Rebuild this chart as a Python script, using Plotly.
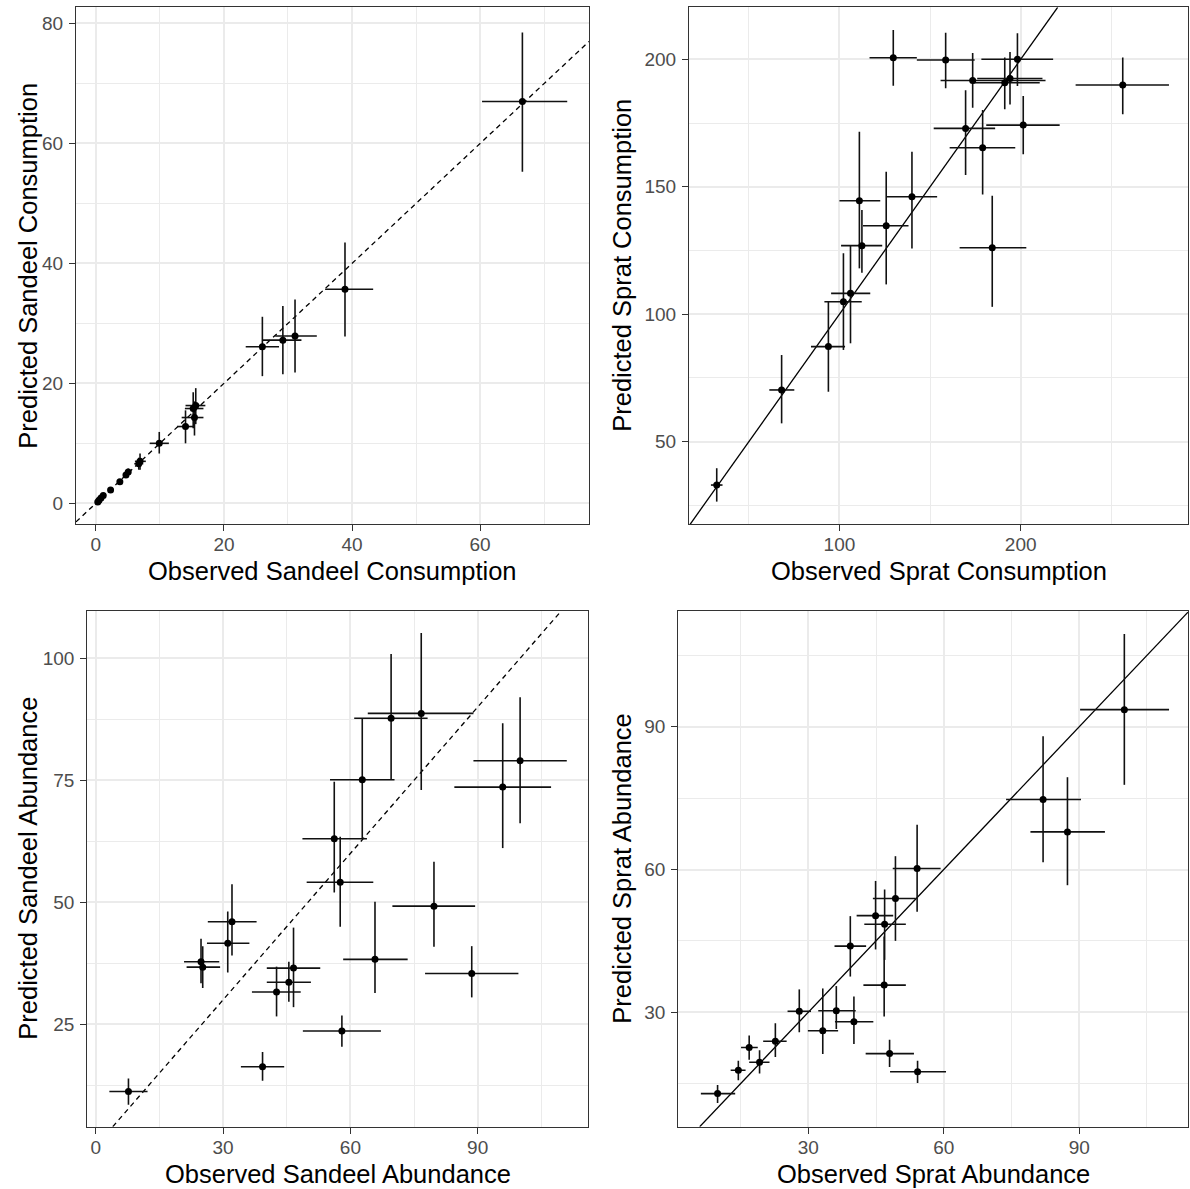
import plotly.graph_objects as go

W, H = 1190, 1189

# ---------------- Panel 1: Sandeel consumption ----------------
sc_obs     = [66.6, 38.9, 31.1, 29.2, 26.0, 15.6, 15.2, 15.4, 14.0, 9.9, 6.9, 6.7, 5.05, 4.7, 3.75, 2.3, 1.15, 0.8, 0.5, 0.3]
sc_pred    = [67.0, 35.7, 27.9, 27.2, 26.1, 16.3, 15.8, 14.3, 12.8, 10.0, 7.0, 6.6, 5.2, 4.7, 3.6, 2.2, 1.3, 0.9, 0.5, 0.2]
sc_obs_lo  = [60.3, 35.8, 28.0, 26.1, 23.4, 14.0, 13.9, 13.4, 12.7, 8.4, 6.1, 6.0, 4.6, 4.3, 3.5, 2.1, 1.0, 0.7, 0.4, 0.2]
sc_obs_hi  = [73.6, 43.3, 34.5, 32.1, 28.6, 17.1, 16.8, 16.8, 15.2, 11.4, 7.8, 7.4, 5.5, 5.1, 4.0, 2.5, 1.3, 0.9, 0.6, 0.4]
sc_pred_lo = [55.3, 27.8, 21.8, 21.5, 21.2, 13.2, 12.5, 11.3, 10.0, 8.3, 5.6, 5.6, 4.6, 4.2, 3.3, 2.0, 1.1, 0.8, 0.4, 0.1]
sc_pred_hi = [78.5, 43.5, 34.0, 32.9, 31.1, 19.2, 18.5, 17.0, 15.5, 11.9, 8.3, 7.6, 5.8, 5.2, 3.9, 2.4, 1.5, 1.0, 0.6, 0.3]

# ---------------- Panel 2: Sprat consumption ----------------
pc_obs     = [32.3, 68.1, 93.9, 102.2, 106.1, 112.4, 111.0, 125.8, 140.0, 184.3, 179.0, 169.6, 201.4, 129.7, 158.6, 173.5, 191.2, 194.1, 198.2, 256.3]
pc_pred    = [33.0, 70.3, 87.3, 104.9, 108.2, 126.9, 144.5, 134.7, 146.1, 126.1, 165.3, 172.9, 174.2, 200.6, 199.7, 191.7, 190.8, 192.5, 200.0, 189.9]
pc_obs_lo  = [29.1, 61.3, 84.3, 91.7, 95.4, 100.9, 100.0, 113.0, 125.9, 166.3, 160.8, 152.0, 181.0, 116.6, 142.7, 155.8, 173.5, 176.0, 178.3, 230.3]
pc_obs_hi  = [35.5, 75.1, 103.1, 112.3, 117.0, 123.6, 122.5, 138.1, 153.9, 203.1, 197.0, 185.9, 221.5, 142.7, 174.6, 213.7, 210.5, 212.0, 217.9, 281.8]
pc_pred_lo = [26.5, 57.2, 69.6, 86.0, 88.6, 116.3, 118.0, 111.7, 125.8, 102.9, 147.0, 154.6, 162.8, 189.6, 188.6, 181.0, 180.4, 182.3, 189.5, 178.4]
pc_pred_hi = [39.6, 84.0, 104.9, 123.9, 127.1, 140.9, 171.6, 155.9, 163.7, 146.5, 180.1, 187.9, 185.6, 211.5, 210.4, 202.5, 200.7, 202.9, 210.2, 200.7]

# ---------------- Panel 3: Sandeel abundance ----------------
sa_obs     = [7.7, 24.8, 25.2, 31.1, 32.1, 39.3, 42.6, 45.5, 46.6, 58.0, 65.8, 79.7, 88.6, 57.6, 56.2, 62.8, 69.6, 76.7, 100.0, 95.9]
sa_pred    = [11.2, 37.8, 36.7, 41.6, 46.0, 16.3, 31.6, 33.6, 36.5, 23.6, 38.3, 49.2, 35.4, 54.1, 63.0, 75.1, 87.7, 88.7, 79.0, 73.6]
sa_obs_lo  = [3.2, 20.8, 21.4, 26.2, 26.4, 34.2, 36.8, 40.3, 40.3, 48.8, 58.3, 69.9, 77.6, 49.7, 48.7, 55.2, 60.9, 64.1, 89.0, 84.5]
sa_obs_hi  = [12.2, 29.1, 29.3, 36.2, 37.9, 44.4, 48.3, 50.7, 52.9, 67.2, 73.5, 89.4, 99.6, 65.4, 63.9, 70.4, 78.2, 89.0, 111.0, 107.3]
sa_pred_lo = [8.5, 33.4, 32.4, 35.6, 39.1, 13.4, 26.6, 29.6, 28.5, 20.4, 31.4, 40.9, 30.5, 45.0, 52.0, 63.0, 75.1, 73.0, 66.2, 61.1]
sa_pred_hi = [13.9, 42.5, 41.0, 48.1, 53.7, 19.3, 36.8, 37.8, 44.8, 26.8, 50.1, 58.3, 41.0, 63.4, 74.7, 87.7, 100.9, 105.2, 92.0, 86.7]

# ---------------- Panel 4: Sprat abundance ----------------
pa_obs     = [9.9, 14.5, 16.9, 19.2, 22.7, 28.0, 33.2, 36.2, 40.1, 39.3, 44.9, 46.9, 46.8, 49.3, 54.1, 48.0, 54.2, 100.0, 82.0, 87.4]
pa_pred    = [12.9, 17.8, 22.6, 19.5, 23.9, 30.2, 26.1, 30.3, 28.0, 43.9, 50.3, 48.5, 35.7, 53.9, 60.2, 21.3, 17.5, 93.6, 74.7, 67.9]
pa_obs_lo  = [6.2, 12.8, 15.1, 16.9, 20.0, 25.4, 29.9, 32.2, 35.9, 35.8, 40.7, 42.4, 42.2, 44.3, 48.7, 42.7, 48.1, 90.2, 73.8, 79.2]
pa_obs_hi  = [13.8, 16.1, 18.8, 21.4, 25.2, 30.6, 36.6, 40.5, 44.4, 42.8, 48.8, 51.6, 51.6, 53.8, 59.3, 53.4, 60.5, 109.9, 90.4, 95.7]
pa_pred_lo = [10.9, 15.7, 20.0, 17.1, 20.6, 25.8, 21.2, 26.5, 23.3, 37.5, 43.2, 41.0, 29.1, 45.0, 51.1, 18.5, 15.1, 77.8, 61.5, 56.7]
pa_pred_hi = [14.7, 19.8, 25.1, 22.0, 27.7, 34.8, 35.0, 35.5, 33.3, 50.2, 57.6, 55.8, 45.9, 62.8, 69.4, 24.2, 19.8, 109.5, 88.0, 79.4]

# axis titles
x_titles = ["Observed Sandeel Consumption", "Observed Sprat Consumption",
            "Observed Sandeel Abundance", "Observed Sprat Abundance"]
y_titles = ["Predicted Sandeel Consumption", "Predicted Sprat Consumption",
            "Predicted Sandeel Abundance", "Predicted Sprat Abundance"]

# ticks
x_ticks = [[0, 20, 40, 60], [100, 200], [0, 30, 60, 90], [30, 60, 90]]
x_minor = [[10, 30, 50, 70], [50, 150, 250], [15, 45, 75, 105], [15, 45, 75, 105]]
y_ticks = [[0, 20, 40, 60, 80], [50, 100, 150, 200], [25, 50, 75, 100], [30, 60, 90]]
y_minor = [[10, 30, 50, 70], [25, 75, 125, 175], [12.5, 37.5, 62.5, 87.5], [15, 45, 75, 105]]

# axis ranges
x_ranges = [[-3.1, 77.0], [17.0, 292.3], [-2.0, 116.0], [1.2, 114.1]]
y_ranges = [[-3.45, 82.7], [17.6, 220.4], [4.0, 109.75], [5.94, 114.4]]

line_dash = ["5px,4px", "solid", "5px,4px", "solid"]

# panel pixel boxes (left, right, top, bottom)
boxes = [(76, 589, 7.3, 524), (689, 1188, 7.3, 524.3),
         (87.3, 588, 610.7, 1126.7), (678.3, 1188, 610.7, 1126.7)]

panels = [
    (sc_obs, sc_pred, sc_obs_lo, sc_obs_hi, sc_pred_lo, sc_pred_hi),
    (pc_obs, pc_pred, pc_obs_lo, pc_obs_hi, pc_pred_lo, pc_pred_hi),
    (sa_obs, sa_pred, sa_obs_lo, sa_obs_hi, sa_pred_lo, sa_pred_hi),
    (pa_obs, pa_pred, pa_obs_lo, pa_obs_hi, pa_pred_lo, pa_pred_hi),
]

FONT = "Liberation Sans, Arial, sans-serif"
fig = go.Figure()
layout = dict(width=W, height=H, margin=dict(l=0, r=0, t=0, b=0),
              paper_bgcolor="white", plot_bgcolor="white", showlegend=False,
              font=dict(family=FONT))
annotations = []

for i, (xo, yp, xlo, xhi, ylo, yhi) in enumerate(panels):
    k = "" if i == 0 else str(i + 1)
    L, R, T, B = boxes[i]
    xd = [L / W, R / W]
    yd = [(H - B) / H, (H - T) / H]

    # reference 1:1 line within the visible box
    lo = max(x_ranges[i][0], y_ranges[i][0])
    hi = min(x_ranges[i][1], y_ranges[i][1])
    fig.add_trace(go.Scatter(x=[lo, hi], y=[lo, hi], mode="lines",
                             line=dict(color="black", width=1.3, dash=line_dash[i]),
                             xaxis="x" + k, yaxis="y" + k, hoverinfo="skip"))

    fig.add_trace(go.Scatter(
        x=xo, y=yp, mode="markers",
        marker=dict(color="black", size=7),
        error_x=dict(type="data", symmetric=False,
                     array=[h - v for h, v in zip(xhi, xo)],
                     arrayminus=[v - l for l, v in zip(xlo, xo)],
                     color="#111111", thickness=1.6, width=0),
        error_y=dict(type="data", symmetric=False,
                     array=[h - v for h, v in zip(yhi, yp)],
                     arrayminus=[v - l for l, v in zip(ylo, yp)],
                     color="#111111", thickness=1.6, width=0),
        xaxis="x" + k, yaxis="y" + k))

    common = dict(showgrid=True, gridcolor="#EBEBEB", gridwidth=1.6,
                  showline=True, mirror=True, linecolor="#333333", linewidth=1.2,
                  ticks="outside", ticklen=6, tickwidth=1.2, tickcolor="#333333",
                  tickfont=dict(size=19, color="#4D4D4D", family=FONT),
                  zeroline=False, automargin=False)
    layout["xaxis" + k] = dict(domain=xd, range=x_ranges[i], anchor="y" + k,
                               tickvals=x_ticks[i], ticktext=[str(t) for t in x_ticks[i]],
                               ticklabelstandoff=-3,
                               minor=dict(tickvals=x_minor[i], showgrid=True,
                                          gridcolor="#EBEBEB", gridwidth=0.8),
                               **common)
    layout["yaxis" + k] = dict(domain=yd, range=y_ranges[i], anchor="x" + k,
                               tickvals=y_ticks[i], ticktext=[str(t) for t in y_ticks[i]],
                               ticklabelstandoff=2,
                               minor=dict(tickvals=y_minor[i], showgrid=True,
                                          gridcolor="#EBEBEB", gridwidth=0.8),
                               **common)

    # axis titles
    annotations.append(dict(text=x_titles[i], xref="paper", yref="paper",
                            x=(L + R) / 2 / W, y=(H - (B + 47)) / H,
                            xanchor="center", yanchor="middle", showarrow=False,
                            font=dict(size=25.5, color="black", family=FONT)))
    ytx = 28 if i in (0, 2) else 622
    annotations.append(dict(text=y_titles[i], xref="paper", yref="paper",
                            x=ytx / W, y=(H - (T + B) / 2) / H, textangle=-90,
                            xanchor="center", yanchor="middle", showarrow=False,
                            font=dict(size=25.5, color="black", family=FONT)))

layout["annotations"] = annotations
fig.update_layout(**layout)
fig.write_html("out.html")
